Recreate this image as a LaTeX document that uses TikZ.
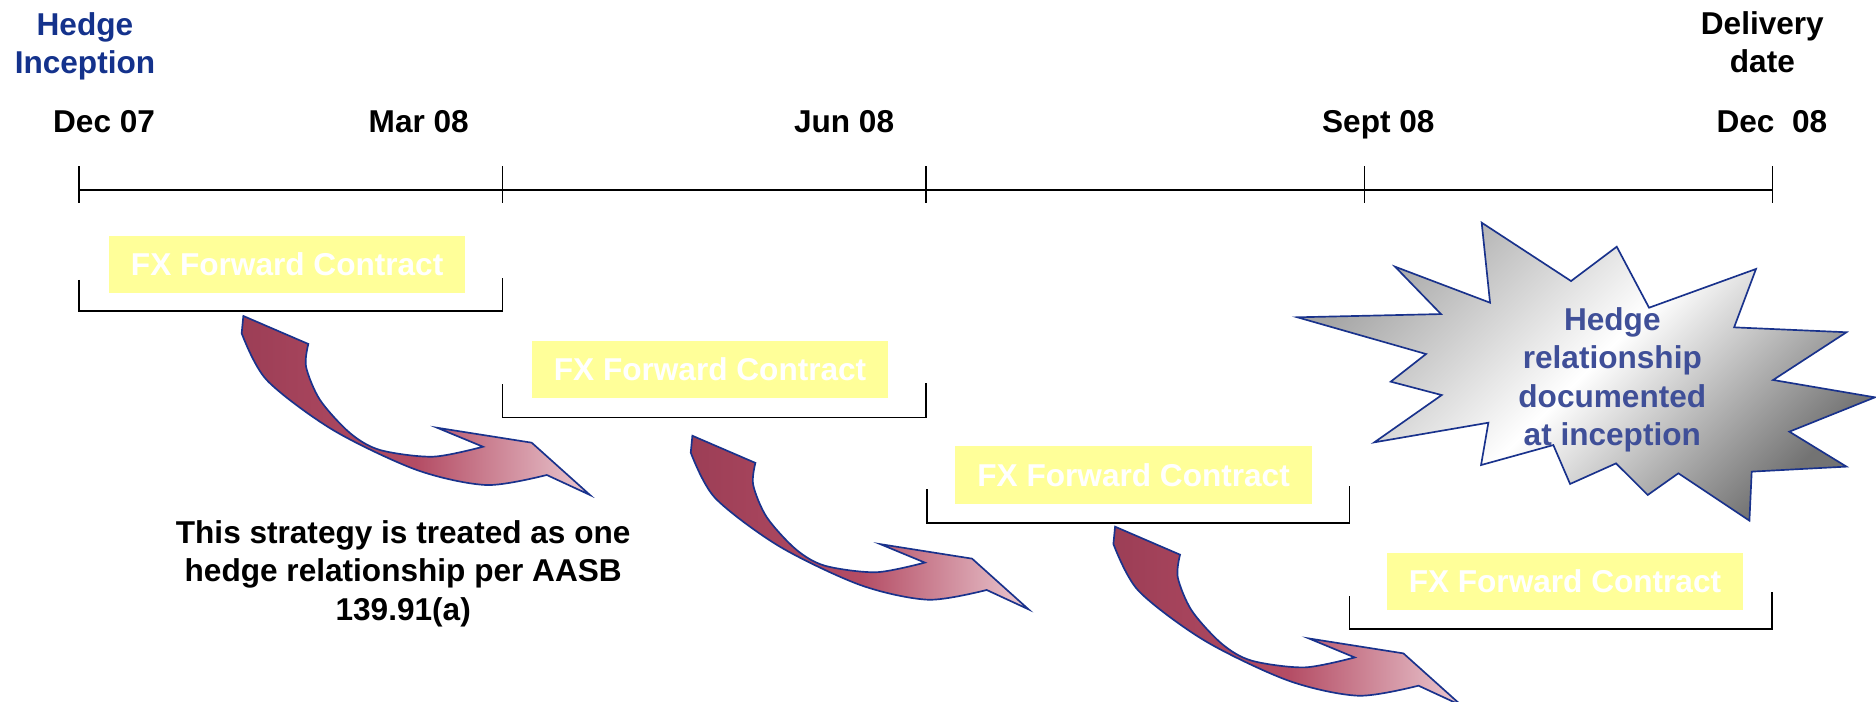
\documentclass[tikz,border=0pt]{standalone}
\usepackage{fontspec}
\setmainfont{Liberation Sans}
\usepackage{tikz}
\definecolor{navyblue}{RGB}{20,50,140}
\definecolor{burstblue}{RGB}{63,79,152}
\definecolor{outlineblue}{RGB}{25,50,140}
\definecolor{fxyellow}{RGB}{255,255,153}
\definecolor{arrowdark}{RGB}{156,62,86}
\definecolor{arrowmid}{RGB}{180,76,100}
\definecolor{arrowlight}{RGB}{234,200,208}
\newcommand{\bigbf}{\fontsize{26.4}{32}\selectfont\bfseries}
% twisted arrow, tail corner at the origin
\newcommand{\twistarrow}{(0,0) -- plot[smooth] coordinates {(54.3,23.4) (52.4,42.4) (64.1,70.2) (89.1,97.8) (114.2,112) (158.5,117.6) (200.3,109.3)}
  -- (161.9,93.4) -- (241,105.9) -- (289.7,149.6) -- (253.6,132.9)
  -- plot[smooth] coordinates {(253.6,132.9) (203.4,141.3) (144.9,128.7) (74.9,95.3) (19.5,53.5) (-1.4,14.5)} -- cycle}

\begin{document}
\begin{tikzpicture}[x=1pt,y=-1pt,
  date/.style={anchor=base,font=\bigbf},
  note/.style={anchor=north,align=center,inner sep=0pt,font=\bigbf},
  fxbox/.style={fill=fxyellow,text=white,minimum width=298pt,minimum height=48pt,inner sep=0pt,font=\bigbf},
  bracket/.style={line width=1.5pt},
  twist/.style={draw=outlineblue,line width=1.4pt,left color=arrowdark,right color=arrowlight,middle color=arrowmid},
  burst/.style={draw=outlineblue,line width=1.4pt,top color=gray!70,bottom color=gray!90!black,middle color=white,shading angle=45}]
\useasboundingbox (0,0) rectangle (1568,586);

% Timeline
  \coordinate (t0) at (66,159);
  \coordinate (t1) at (420,159);
  \coordinate (t2) at (774,159);
  \coordinate (t3) at (1140.5,159);
  \coordinate (t4) at (1481.5,159);
  \draw[bracket] (t0) -- (t4);
  \foreach \t in {t0,t1,t2,t3,t4}
    \draw[bracket] ([yshift=20pt]\t) -- ([yshift=-10.5pt]\t);

  \node (inception) at (71,10) [note,text=navyblue] {Hedge\\Inception};
  \node (delivery) at (1473,9.5) [note] {Delivery\\date};
  \node (dec07) at (87,111) [date] {Dec 07};
  \node (mar08) at (350,111) [date] {Mar 08};
  \node (jun08) at (705.5,111) [date] {Jun 08};
  \node (sep08) at (1152,111) [date] {Sept 08};
  \node (dec08) at (1481,111) [date] {Dec\ \ 08};

% FX forward contracts
  \node (fwd1) at (240,221) [fxbox] {FX Forward Contract};
  \draw[bracket] (66,234) -- (66,260) -- (420,260) -- (420,232);

  \node (fwd2) at (593.5,309) [fxbox] {FX Forward Contract};
  \draw[bracket] (420,321) -- (420,349) -- (774,349) -- (774,320);

  \node (fwd3) at (947.5,397) [fxbox] {FX Forward Contract};
  \draw[bracket] (775,409) -- (775,437) -- (1128,437) -- (1128,406);

  \node (fwd4) at (1308,486) [fxbox] {FX Forward Contract};
  \draw[bracket] (1128,498.5) -- (1128,525.5) -- (1481,525.5) -- (1481,494.5);

% Roll-over arrows
  \begin{scope}[shift={(203.4,264.1)}]
    \draw[twist] \twistarrow;
  \end{scope}
  \begin{scope}[shift={(578.7,364.2)},scale=0.97]
    \draw[twist] \twistarrow;
  \end{scope}
  \begin{scope}[shift={(932,440.2)}]
    \draw[twist] \twistarrow;
  \end{scope}

  \node (strategy) at (337,435) [note] {This strategy is treated as one\\hedge relationship per AASB\\139.91(a)};

% Explosion
  \draw[burst] (1238.4,186.1) -- (1313.1,234.9) -- (1351.3,206.2) -- (1378.3,257.2)
    -- (1467.7,224.8) -- (1449.4,273.6) -- (1543.3,277.7) -- (1482.0,317.6)
    -- (1567.1,332.1) -- (1495.6,360.8) -- (1543.3,390.0) -- (1464.1,394.2)
    -- (1462.2,435.2) -- (1402.8,395.6) -- (1377.2,413.7) -- (1350.7,387.3)
    -- (1312.3,404.5) -- (1298.3,372.0) -- (1237.9,388.7) -- (1244.0,353.3)
    -- (1148.7,369.7) -- (1205.0,330.2) -- (1162.4,319.0) -- (1191.9,295.9)
    -- (1084.4,265.2) -- (1204.4,262.5) -- (1166.0,222.9) -- (1245.4,253.0) -- cycle;
  \node (documented) at (1347.6,257) [note,text=burstblue] {Hedge\\relationship\\documented\\at inception};

\end{tikzpicture}
\end{document}
